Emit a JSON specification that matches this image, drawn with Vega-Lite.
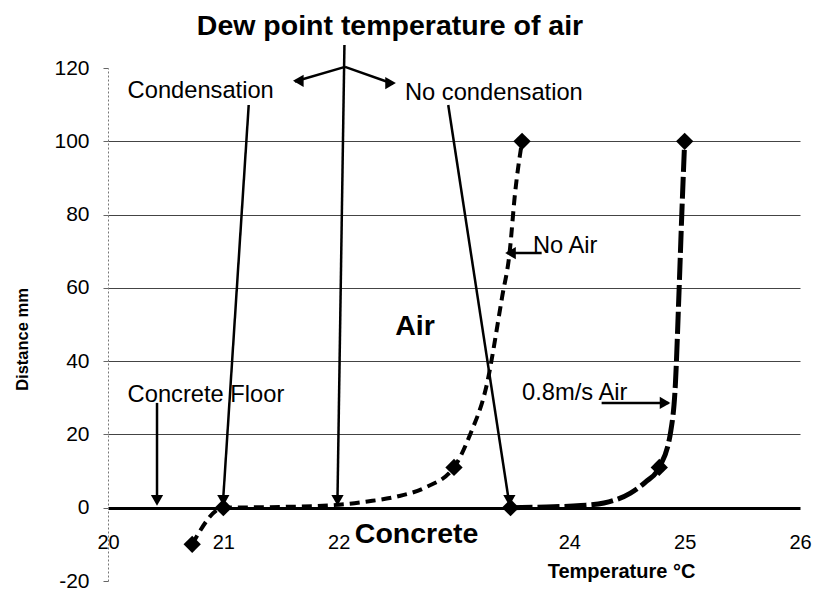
{
  "$schema": "https://vega.github.io/schema/vega-lite/v6.json",
  "autosize": {"type": "none"},
  "padding": {"left": 108, "top": 68, "right": 14, "bottom": 9},
  "width": 692,
  "height": 513,
  "background": "white",
  "config": {
    "view": {"stroke": null},
    "font": "Liberation Sans",
    "text": {"font": "Liberation Sans", "color": "black"}
  },
  "datasets": {
    "curves": [
      {"series": "No Air", "t": 20.73, "d": -10},
      {"series": "No Air", "t": 21.0, "d": 0},
      {"series": "No Air", "t": 21.5, "d": 0.2},
      {"series": "No Air", "t": 22.0, "d": 0.8},
      {"series": "No Air", "t": 22.25, "d": 1.7},
      {"series": "No Air", "t": 22.5, "d": 3},
      {"series": "No Air", "t": 22.75, "d": 5.5},
      {"series": "No Air", "t": 23.0, "d": 11},
      {"series": "No Air", "t": 23.14, "d": 20},
      {"series": "No Air", "t": 23.28, "d": 33},
      {"series": "No Air", "t": 23.42, "d": 58},
      {"series": "No Air", "t": 23.48, "d": 69},
      {"series": "No Air", "t": 23.53, "d": 86},
      {"series": "No Air", "t": 23.59, "d": 100},
      {"series": "0.8m/s Air", "t": 23.49, "d": 0},
      {"series": "0.8m/s Air", "t": 23.8, "d": 0.2},
      {"series": "0.8m/s Air", "t": 24.1, "d": 0.6},
      {"series": "0.8m/s Air", "t": 24.3, "d": 1.3},
      {"series": "0.8m/s Air", "t": 24.53, "d": 4},
      {"series": "0.8m/s Air", "t": 24.66, "d": 7},
      {"series": "0.8m/s Air", "t": 24.78, "d": 11},
      {"series": "0.8m/s Air", "t": 24.88, "d": 21},
      {"series": "0.8m/s Air", "t": 24.92, "d": 34},
      {"series": "0.8m/s Air", "t": 24.95, "d": 58},
      {"series": "0.8m/s Air", "t": 24.975, "d": 80},
      {"series": "0.8m/s Air", "t": 25.0, "d": 100}
    ],
    "markers": [
      {"series": "No Air", "t": 20.73, "d": -10},
      {"series": "No Air", "t": 21.0, "d": 0},
      {"series": "No Air", "t": 23.0, "d": 11},
      {"series": "No Air", "t": 23.59, "d": 100},
      {"series": "0.8m/s Air", "t": 23.49, "d": 0},
      {"series": "0.8m/s Air", "t": 24.78, "d": 11},
      {"series": "0.8m/s Air", "t": 25.0, "d": 100}
    ],
    "arrows": [
      {"name": "dew point", "t1": 22.05, "d1": 126.3, "t2": 21.99, "d2": 3},
      {"name": "branch left", "t1": 22.055, "d1": 120.3, "t2": 21.62, "d2": 116.3},
      {"name": "branch right", "t1": 22.055, "d1": 120.3, "t2": 22.47, "d2": 115.7},
      {"name": "condensation", "t1": 21.22, "d1": 109.9, "t2": 21.0, "d2": 3},
      {"name": "no condensation", "t1": 22.95, "d1": 109.9, "t2": 23.47, "d2": 3},
      {"name": "concrete floor", "t1": 20.425, "d1": 28.6, "t2": 20.425, "d2": 3},
      {"name": "no air", "t1": 23.76, "d1": 69.5, "t2": 23.46, "d2": 69.5},
      {"name": "air 0.8", "t1": 24.28, "d1": 28.6, "t2": 24.86, "d2": 28.6}
    ],
    "heads": [
      {"name": "dew point", "t": 21.99, "d": 2.0, "dir": "down"},
      {"name": "condensation", "t": 21.0, "d": 2.0, "dir": "down"},
      {"name": "no condensation", "t": 23.48, "d": 2.0, "dir": "down"},
      {"name": "concrete floor", "t": 20.425, "d": 2.0, "dir": "down"},
      {"name": "branch left", "t": 21.65, "d": 116.5, "dir": "left"},
      {"name": "branch right", "t": 22.45, "d": 115.9, "dir": "right"},
      {"name": "no air", "t": 23.49, "d": 69.5, "dir": "left"},
      {"name": "air 0.8", "t": 24.83, "d": 28.6, "dir": "right"}
    ],
    "notes": [
      {"t": 20.17, "d": 111.8, "text": "Condensation"},
      {"t": 22.575, "d": 111.3, "text": "No condensation"},
      {"t": 23.685, "d": 69.5, "text": "No Air"},
      {"t": 20.17, "d": 28.8, "text": "Concrete Floor"},
      {"t": 23.59, "d": 29.4, "text": "0.8m/s Air"}
    ],
    "headings": [
      {"t": 20.77, "d": 129, "text": "Dew point temperature of air"},
      {"t": 22.49, "d": 47.1, "text": "Air"},
      {"t": 22.14, "d": -9.6, "text": "Concrete"}
    ]
  },
  "encoding": {
    "x": {
      "type": "quantitative",
      "scale": {"domain": [20, 26], "nice": false, "zero": false},
      "axis": {
        "orient": "bottom",
        "offset": -73,
        "values": [20, 21, 22, 24, 25, 26],
        "labelFont": "Liberation Sans",
        "labelFontSize": 20,
        "labelColor": "black",
        "labelPadding": 24,
        "labelFlush": false,
        "ticks": false,
        "grid": false,
        "domainColor": "black",
        "domainWidth": 3,
        "title": "Temperature  °C",
        "titleFont": "Liberation Sans",
        "titleFontSize": 20,
        "titleFontWeight": "bold",
        "titleColor": "black",
        "titleX": 513,
        "titleY": 69,
        "titleBaseline": "alphabetic",
        "titleAlign": "center"
      }
    },
    "y": {
      "type": "quantitative",
      "scale": {"domain": [-20, 120], "nice": false, "zero": false},
      "axis": {
        "values": [-20, 0, 20, 40, 60, 80, 100, 120],
        "labelExpr": "'' + datum.value",
        "labelFont": "Liberation Sans",
        "labelFontSize": 21,
        "labelColor": "black",
        "labelPadding": 14,
        "tickSize": 5,
        "tickColor": "#666666",
        "domainColor": "#777777",
        "domainDash": [2, 2],
        "grid": true,
        "gridColor": {"condition": {"test": "datum.value <= 0 || datum.value >= 120", "value": "transparent"}, "value": "#444444"},
        "gridWidth": 1,
        "title": "Distance  mm",
        "titleFont": "Liberation Sans",
        "titleFontSize": 16.5,
        "titleFontWeight": "bold",
        "titleColor": "black",
        "titleX": -86,
        "titleY": 271,
        "titleAngle": 270,
        "titleAlign": "center",
        "titleBaseline": "middle"
      }
    }
  },
  "layer": [
    {
      "data": {"name": "curves"},
      "mark": {"type": "line", "interpolate": "monotone", "color": "black", "strokeCap": "butt"},
      "encoding": {
        "x": {"field": "t", "type": "quantitative"},
        "y": {"field": "d", "type": "quantitative"},
        "detail": {"field": "series"},
        "strokeDash": {"field": "series", "type": "nominal", "scale": {"domain": ["No Air", "0.8m/s Air"], "range": [[10, 6], [22, 5]]}, "legend": null},
        "strokeWidth": {"field": "series", "type": "nominal", "scale": {"domain": ["No Air", "0.8m/s Air"], "range": [4, 5]}, "legend": null}
      }
    },
    {
      "data": {"name": "markers"},
      "mark": {"type": "point", "shape": "diamond", "filled": true, "color": "black", "size": 300, "opacity": 1},
      "encoding": {
        "x": {"field": "t", "type": "quantitative"},
        "y": {"field": "d", "type": "quantitative"}
      }
    },
    {
      "data": {"name": "arrows"},
      "mark": {"type": "rule", "color": "black", "strokeWidth": 2.5},
      "encoding": {
        "x": {"field": "t1", "type": "quantitative"},
        "y": {"field": "d1", "type": "quantitative"},
        "x2": {"field": "t2"},
        "y2": {"field": "d2"}
      }
    },
    {
      "data": {"name": "heads"},
      "mark": {"type": "point", "filled": true, "color": "black", "size": 150, "opacity": 1},
      "encoding": {
        "x": {"field": "t", "type": "quantitative"},
        "y": {"field": "d", "type": "quantitative"},
        "shape": {"field": "dir", "type": "nominal", "scale": {"domain": ["down", "left", "right"], "range": ["triangle-down", "triangle-left", "triangle-right"]}, "legend": null}
      }
    },
    {
      "data": {"name": "notes"},
      "mark": {"type": "text", "align": "left", "baseline": "alphabetic", "fontSize": 23.7, "font": "Liberation Sans", "color": "black"},
      "encoding": {
        "x": {"field": "t", "type": "quantitative"},
        "y": {"field": "d", "type": "quantitative"},
        "text": {"field": "text"}
      }
    },
    {
      "data": {"name": "headings"},
      "mark": {"type": "text", "align": "left", "baseline": "alphabetic", "fontSize": 28.5, "fontWeight": "bold", "font": "Liberation Sans", "color": "black"},
      "encoding": {
        "x": {"field": "t", "type": "quantitative"},
        "y": {"field": "d", "type": "quantitative"},
        "text": {"field": "text"}
      }
    }
  ]
}
